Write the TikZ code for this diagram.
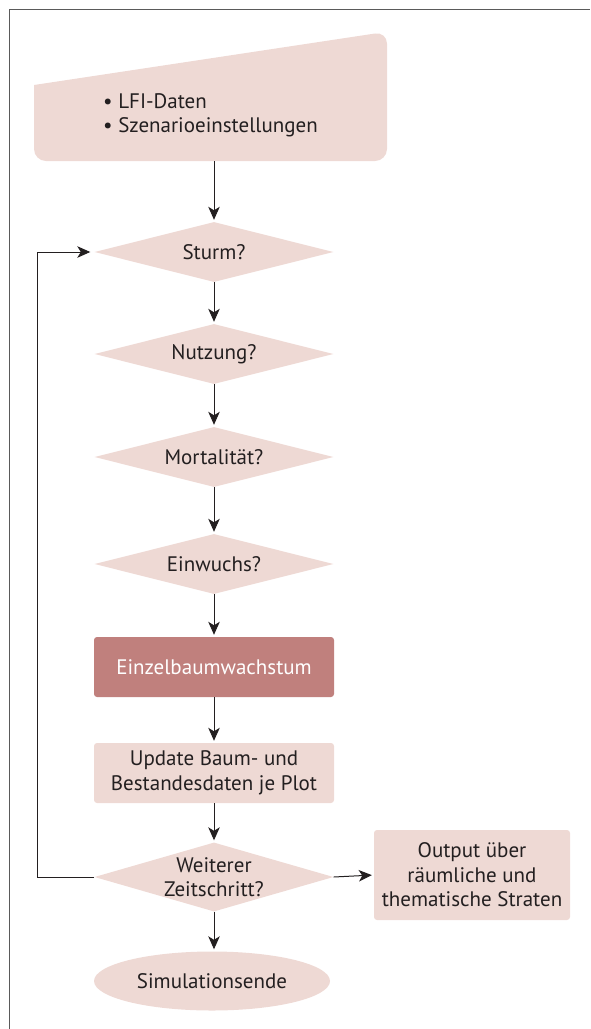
\documentclass[tikz,border=0pt]{standalone}
\usepackage{fontspec}
\setmainfont{PT Sans}
\usetikzlibrary{shapes.geometric,arrows.meta}
\definecolor{lightfill}{RGB}{238,217,212}
\definecolor{darkfill}{RGB}{192,128,125}
\definecolor{ink}{RGB}{35,31,32}
\definecolor{framec}{RGB}{90,90,90}
\tikzset{
  base/.style={font=\fontsize{21}{24.5}\selectfont, text=ink, inner sep=0pt, align=center},
  decision/.style={diamond, fill=lightfill, inner sep=0pt, minimum width=239pt, minimum height=60pt},
  txt/.style={base},
  procbox/.style={base, rectangle, rounded corners=3pt, fill=lightfill, minimum width=240pt, minimum height=60pt},
  darkbox/.style={procbox, fill=darkfill, text=white},
  endblob/.style={base, ellipse, fill=lightfill, minimum width=236pt, minimum height=59pt},
  arr/.style={draw=ink, line width=1pt, -{Stealth[length=13pt,width=11.5pt,inset=3.5pt]}, shorten >=2pt}
}
\begin{document}
\begin{tikzpicture}[x=1pt,y=-1pt]
\useasboundingbox (0,0) rectangle (590,1029);
\draw[framec, line width=1.5pt] (9.5,1029) -- (9.5,9.5) -- (590,9.5);
% manual input shape
\fill[lightfill, rounded corners=12pt] (34,85) -- (387,31.7) -- (387,161) -- (34,161) -- (34,85);
\node[base, align=left, anchor=west] (input) at (103,115.5) {\textbullet\ LFI-Daten\\\textbullet\ Szenarioeinstellungen};
\coordinate (inbot) at (214,161);
\node[decision] (sturm) at (214,252) {};
\node[txt] (sturmt) at (sturm.center) {Sturm?};
\node[decision] (nutz) at (214,354) {};
\node[txt] (nutzt) at (nutz.center) {Nutzung?};
\node[decision] (mort) at (214,457) {};
\node[txt] (mortt) at (mort.center) {Mortalität?};
\node[decision] (einw) at (214,564) {};
\node[txt] (einwt) at (einw.center) {Einwuchs?};
\node[darkbox] (wachs) at (214,667) {Einzelbaumwachstum};
\node[procbox] (upd) at (214,773) {Update Baum- und\\Bestandesdaten je Plot};
\node[decision, minimum height=69pt] (weiter) at (214,877) {};
\node[txt] (weitert) at (weiter.center) {Weiterer\\Zeitschritt?};
\node[procbox, minimum width=196pt, minimum height=90pt] (out) at (472,875) {Output über\\räumliche und\\thematische Straten};
\node[endblob] (ende) at (212,981) {Simulationsende};
\draw[arr] (inbot) -- (sturm.north);
\draw[arr] (sturm) -- (nutz);
\draw[arr] (nutz) -- (mort);
\draw[arr] (mort) -- (einw);
\draw[arr] (einw) -- (wachs);
\draw[arr] (wachs) -- (upd);
\draw[arr] (upd) -- (weiter);
\draw[arr] (weiter.east) -- (out.west);
\draw[arr] (weiter.south) -- (ende.north -| weiter.south);
\draw[arr, shorten >=4pt] (weiter.west) -- ++(-56.4,0) |- (sturm.west);
\end{tikzpicture}
\end{document}
